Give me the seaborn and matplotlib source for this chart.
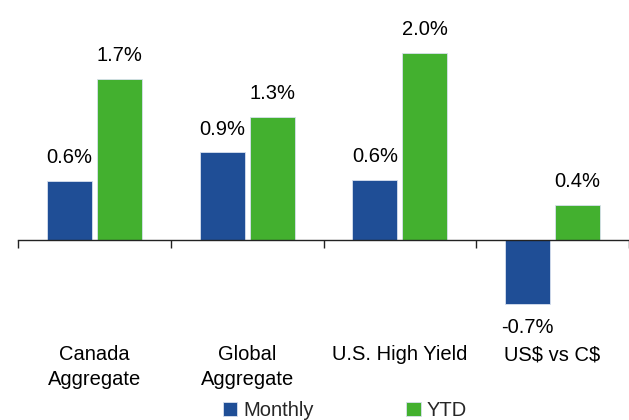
import seaborn as sns
import numpy as np
import matplotlib.pyplot as plt
import pandas as pd

categories = ["Canada\nAggregate", "Global\nAggregate", "U.S. High Yield", "US\\$ vs C\\$"]
monthly = [0.63, 0.93, 0.64, -0.68]
ytd = [1.71, 1.31, 1.99, 0.37]
series = ["Monthly", "YTD"]
colors = ["#1F4E96", "#43B02F"]

df = pd.DataFrame({
    "category": categories * 2,
    "series": [series[0]] * len(categories) + [series[1]] * len(categories),
    "value": monthly + ytd,
})

sns.set_theme(style="white")
plt.rcParams["font.family"] = ["Liberation Sans", "DejaVu Sans"]

fig = plt.figure(figsize=(6.29, 4.2), dpi=100)
ax = fig.add_axes([18 / 629, 0.2607, 1 - 18 / 629, 0.7393])

sns.barplot(data=df, x="category", y="value", hue="series", palette=colors,
            saturation=1, width=0.655, gap=0.1, ax=ax, edgecolor="#d8e0ee",
            linewidth=0.6, legend=True)

for cont in ax.containers:
    ax.bar_label(cont, labels=[f"{v:.1f}%" for v in cont.datavalues],
                 padding=10, fontsize=14.5, color="black")

ax.set_xlim(-0.5, 3.5)
ax.set_ylim(-0.75, 2.55)
ax.set_xlabel("")
ax.set_ylabel("")
ax.set_yticks([])

for s in ["top", "right", "left"]:
    ax.spines[s].set_visible(False)
ax.spines["bottom"].set_position(("data", 0))
ax.spines["bottom"].set_color("#222222")
ax.spines["bottom"].set_linewidth(1.0)

ax.set_xticks(range(len(categories)))
ax.set_xticklabels(categories, fontsize=14.5, color="black")
for t in ax.get_xticklabels():
    t.set_linespacing(1.4)
ax.set_xticks(np.arange(-0.5, len(categories)), minor=True)
ax.tick_params(axis="x", which="major", length=0, pad=76)
ax.tick_params(axis="x", which="minor", length=5.5, width=1.0,
               color="#222222", direction="out", bottom=True)

handles, labels = ax.get_legend_handles_labels()
ax.get_legend().remove()
fig.legend(handles, labels, loc="center", bbox_to_anchor=(345 / 629, 0.022),
           ncol=2, frameon=False, fontsize=14.5, handlelength=0.7,
           handleheight=0.7, handletextpad=0.3, columnspacing=4.6)

fig.savefig("out.png", dpi=100)
plt.close()
